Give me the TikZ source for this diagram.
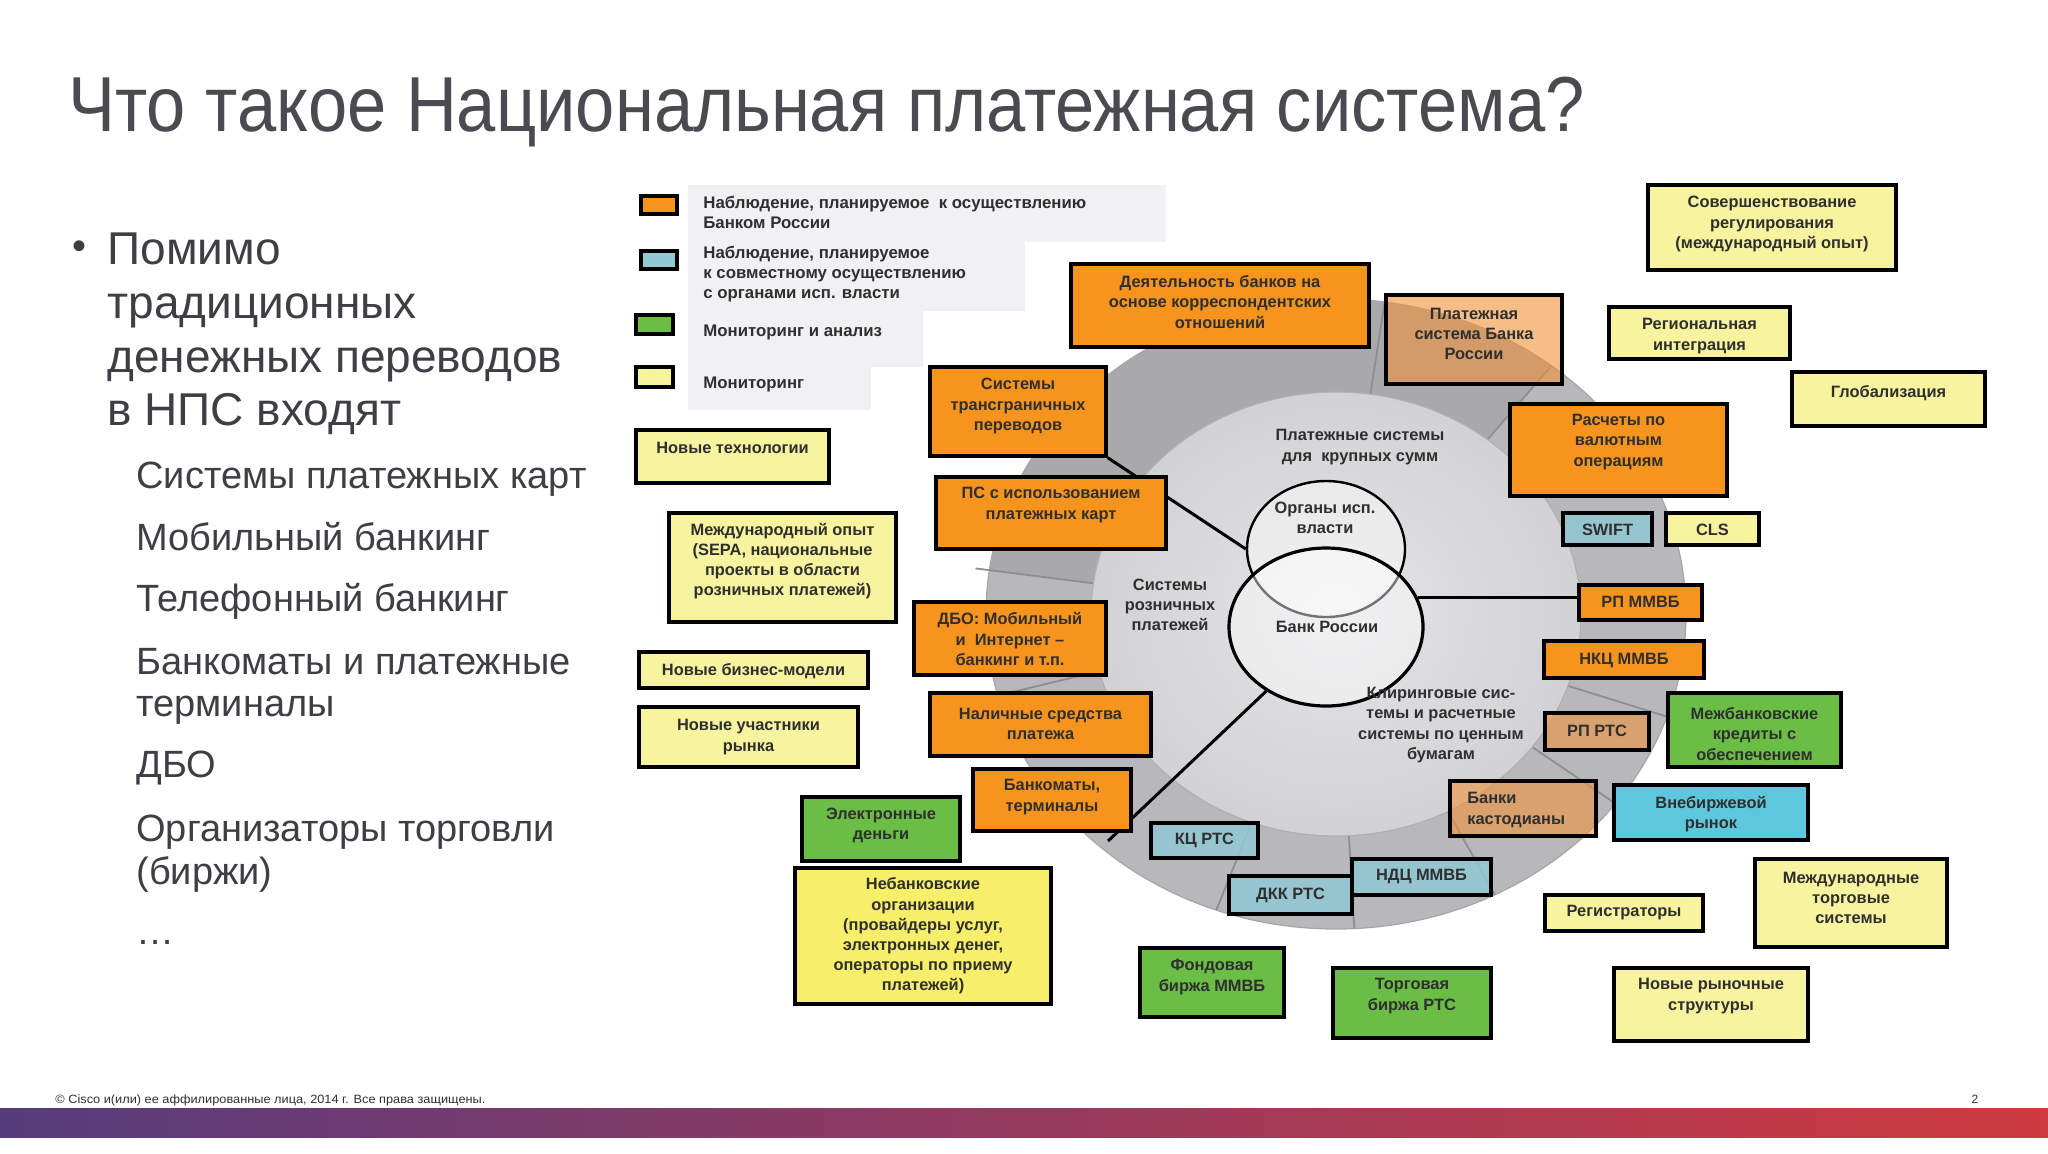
\documentclass[tikz,border=0pt]{standalone}
\usepackage{fontspec}
\usepackage{graphicx}
\setmainfont{Liberation Sans}
\usetikzlibrary{shapes.geometric}
\pgfdeclarelayer{ringlayer}
\pgfdeclarelayer{connlayer}
\pgfsetlayers{ringlayer,connlayer,main}
\definecolor{orng}{HTML}{F7941E}
\definecolor{tanc}{HTML}{F0923A}
\definecolor{ylw}{HTML}{F7F39E}
\definecolor{ylwb}{HTML}{F7EE6A}
\definecolor{grn}{HTML}{6ABD45}
\definecolor{bgrc}{HTML}{91C8D4}
\definecolor{cyn}{HTML}{5DC8DD}
\definecolor{txt}{HTML}{2F2F2F}
\definecolor{ttl}{HTML}{4A4A50}
\definecolor{bul}{HTML}{3E3E44}
\definecolor{ringA}{HTML}{B8B8BA}
\definecolor{ringB}{HTML}{A9A9AB}
\definecolor{discin}{HTML}{E4E4E6}
\definecolor{discout}{HTML}{D2D2D4}
\definecolor{legbg}{HTML}{F1F1F4}
\definecolor{radc}{HTML}{8E8E90}
\tikzset{
  bx/.style={draw=black,line width=1.7pt,inner sep=0pt},
  orngbox/.style={bx,fill=orng},
  tanbox/.style={bx,fill=tanc,fill opacity=0.6},
  ylwbox/.style={bx,fill=ylw},
  ylwbbox/.style={bx,fill=ylwb},
  grnbox/.style={bx,fill=grn},
  bgrbox/.style={bx,fill=bgrc,fill opacity=0.85},
  cynbox/.style={bx,fill=cyn},
  lbl/.style={font=\bfseries\fontsize{8.2pt}{10.1pt}\selectfont,align=center,text=txt,inner sep=0pt},
  leglbl/.style={font=\bfseries\fontsize{8.4pt}{10pt}\selectfont,align=left,text=txt,inner sep=0pt,anchor=west},
  radial/.style={draw=radc,line width=0.9pt},
  conn/.style={draw=black,line width=1.5pt},
  mainl/.style={anchor=base west,inner sep=0pt,text=bul,font=\fontsize{23pt}{27pt}\selectfont},
  subl/.style={anchor=base west,inner sep=0pt,text=bul,font=\fontsize{19pt}{21pt}\selectfont}
}
\newcommand\mybox[8]{%
  \pgfmathsetmacro\bw{(#5-#3)*0.5}\pgfmathsetmacro\bh{(#6-#4)*0.5}%
  \node[#1,minimum width=\bw pt,minimum height=\bh pt] (#2) at ({(#3+#5)/2},{(#4+#6)/2}) {};
  \node[lbl] (#2-t) at ({(#3+#5)/2},#7) {#8};}
\def\cx{1336}\def\cy{614}
\newcommand\radl[3]{\draw[radial] ({\cx+350*#2*cos(-#1)},{\cy+315*#2*sin(-#1)}) -- ({\cx+350*#3*cos(-#1)},{\cy+315*#3*sin(-#1)});}
\begin{document}
\begin{tikzpicture}[x=0.5pt,y=-0.5pt]
\begin{pgfonlayer}{ringlayer}
\useasboundingbox (0,0) rectangle (2048,1153);
\fill[white] (0,0) rectangle (2048,1153);
% ring
\fill[ringA] (\cx,\cy) ellipse [x radius=350, y radius=315];
\fill[ringB] ({\cx+350*cos(-52)},{\cy+315*sin(-52)}) arc[start angle=-52, end angle=-172, x radius=350, y radius=315] -- ({\cx+245*cos(-172)},{\cy+222*sin(-172)}) arc[start angle=-172, end angle=-52, x radius=245, y radius=222] -- cycle;
\draw[draw=radc!80,line width=0.6pt] (\cx,\cy) ellipse [x radius=350, y radius=315];
\radl{82}{0.7}{1.0}
\radl{52}{0.7}{1.0}
\radl{172}{0.7}{1.04}
\radl{195}{0.7}{1.0}
\radl{250}{0.7}{1.0}
\radl{273}{0.7}{1.0}
\radl{297}{0.7}{1.0}
\radl{323}{0.7}{1.0}
\radl{341}{0.7}{1.0}
\shade[inner color=discin,outer color=discout] (\cx,\cy) ellipse [x radius=245, y radius=222];
\draw[draw=radc!70,line width=0.6pt] (\cx,\cy) ellipse [x radius=245, y radius=222];
\end{pgfonlayer}
% title
\node[anchor=base west,inner sep=0pt,text=ttl] (title) at (68,131) {\resizebox{758pt}{\height}{\fontsize{39pt}{39pt}\selectfont Что такое Национальная платежная система?}};
% left text
\node[inner sep=0pt,text=bul,font=\fontsize{20pt}{20pt}\selectfont] (dot) at (80,250) {•};
\node[mainl] (m1) at (107,264) {Помимо};
\node[mainl] (m2) at (107,318) {традиционных};
\node[mainl] (m3) at (107,372) {денежных переводов};
\node[mainl] (m4) at (107,425) {в НПС входят};
\node[subl] (s1) at (136,488) {Системы платежных карт};
\node[subl] (s2) at (136,550) {Мобильный банкинг};
\node[subl] (s3) at (136,611) {Телефонный банкинг};
\node[subl] (s4) at (136,674) {Банкоматы и платежные};
\node[subl] (s4b) at (136,716) {терминалы};
\node[subl] (s5) at (136,777) {ДБО};
\node[subl] (s6) at (136,841) {Организаторы торговли};
\node[subl] (s6b) at (136,884) {(биржи)};
\node[subl] (s7) at (136,944) {…};
% legend
\fill[legbg] (688,185) rectangle (1166,242);
\fill[legbg] (688,242) rectangle (1025,311);
\fill[legbg] (688,311) rectangle (923,367);
\fill[legbg] (688,367) rectangle (871,410);
\node[orngbox,minimum width=18pt,minimum height=9pt] (lg1) at (659,205) {};
\node[bgrbox,fill opacity=1,minimum width=18pt,minimum height=9pt] (lg2) at (659,260) {};
\node[grnbox,minimum width=18.5pt,minimum height=9.5pt] (lg3) at (654.5,324.5) {};
\node[ylwbox,minimum width=18.5pt,minimum height=10pt] (lg4) at (654.5,377) {};
\node[leglbl] (lt1) at (703,212) {Наблюдение, планируемое \ к осуществлению\\Банком России};
\node[leglbl] (lt2) at (703,274) {Наблюдение, планируемое\\к совместному осуществлению\\с органами исп. власти};
\node[leglbl] (lt3) at (703,332) {Мониторинг и анализ};
\node[leglbl] (lt4) at (703,384) {Мониторинг};
% venn
\node[ellipse,draw=black,line width=1.2pt,fill=white,fill opacity=0.45,minimum width=79pt,minimum height=68pt,inner sep=0pt] (org) at (1326,549) {};
\node[ellipse,draw=black,line width=1.6pt,fill=white,fill opacity=0.45,minimum width=97pt,minimum height=79pt,inner sep=0pt] (bank) at (1326,627) {};
\node[lbl] (org-t) at (1325,518) {Органы исп.\\власти};
\node[lbl] (bank-t) at (1327,627) {Банк России};
\node[lbl] (d1) at (1360,447) {Платежные системы\\для \ крупных сумм};
\node[lbl] (d2) at (1170,605) {Системы\\розничных\\платежей};
\node[lbl] (d3) at (1441,725) {Клиринговые сис-\\темы и расчетные\\системы по ценным\\бумагам};
% boxes
\mybox{orngbox}{trans}{930}{367}{1106}{456}{406}{Системы\\трансграничных\\переводов}
\mybox{orngbox}{rpmmvb}{1579}{585}{1702}{620}{602}{РП ММВБ}
\mybox{orngbox}{deyat}{1071}{264}{1369}{347}{302}{Деятельность банков на\\основе корреспондентских\\отношений}
\mybox{tanbox}{psbr}{1386}{295}{1562}{384}{334}{Платежная\\система Банка\\России}
\mybox{ylwbox}{sovr}{1648}{185}{1896}{270}{224}{Совершенствование\\регулирования\\(международный опыт)}
\mybox{ylwbox}{regi}{1609}{307}{1790}{359}{336}{Региональная\\интеграция}
\mybox{ylwbox}{glob}{1792}{372}{1985}{426}{393}{Глобализация}
\mybox{ylwbox}{ntech}{636}{430}{829}{483}{448}{Новые технологии}
\mybox{orngbox}{rasch}{1510}{404}{1727}{496}{442}{Расчеты по\\валютным\\операциям}
\mybox{orngbox}{pscard}{936}{477}{1166}{549}{505}{ПС с использованием\\платежных карт}
\mybox{bgrbox}{swift}{1563}{513}{1652}{545}{530}{SWIFT}
\mybox{ylwbox}{cls}{1666}{513}{1759}{545}{530}{CLS}
\mybox{ylwbox}{intl}{669}{513}{896}{622}{561}{Международный опыт\\(SEPA, национальные\\проекты в области\\розничных платежей)}
\mybox{orngbox}{dbo}{914}{602}{1106}{675}{639}{ДБО: Мобильный\\и \ Интернет –\\банкинг и т.п.}
\mybox{orngbox}{nkc}{1544}{641}{1704}{678}{660}{НКЦ ММВБ}
\mybox{ylwbox}{nbiz}{639}{652}{868}{688}{671}{Новые бизнес-модели}
\mybox{ylwbox}{nuch}{639}{707}{858}{767}{737}{Новые участники\\рынка}
\mybox{orngbox}{nal}{930}{693}{1151}{756}{724}{Наличные средства\\платежа}
\mybox{tanbox}{rprts}{1545}{713}{1649}{750}{731}{РП РТС}
\mybox{grnbox}{mezh}{1668}{693}{1841}{767}{734}{Межбанковские\\кредиты с\\обеспечением}
\mybox{orngbox}{atm}{973}{769}{1131}{831}{797}{Банкоматы,\\терминалы}
\mybox{grnbox}{edeng}{802}{797}{960}{861}{825}{Электронные\\деньги}
\node[tanbox,minimum width=73pt,minimum height=27.5pt] (kast) at (1523,808.5) {};
\node[lbl,align=left,anchor=west] (kast-t) at (1467,810) {Банки\\кастодианы};
\mybox{cynbox}{vneb}{1614}{785}{1808}{840}{814}{Внебиржевой\\рынок}
\mybox{bgrbox}{kcrts}{1151}{823}{1258}{858}{840}{КЦ РТС}
\mybox{bgrbox}{ndc}{1352}{859}{1491}{895}{876}{НДЦ ММВБ}
\mybox{bgrbox}{dkk}{1229}{876}{1352}{914}{895}{ДКК РТС}
\mybox{ylwbbox}{nebank}{795}{868}{1051}{1004}{936}{Небанковские\\организации\\(провайдеры услуг,\\электронных денег,\\операторы по приему\\платежей)}
\mybox{ylwbox}{regs}{1545}{895}{1703}{931}{913}{Регистраторы}
\mybox{ylwbox}{mts}{1755}{859}{1947}{947}{898}{Международные\\торговые\\системы}
\mybox{grnbox}{fond}{1140}{948}{1284}{1017}{977}{Фондовая\\биржа ММВБ}
\mybox{grnbox}{torg}{1333}{968}{1491}{1038}{996}{Торговая\\биржа РТС}
\mybox{ylwbox}{nrs}{1614}{968}{1808}{1041}{996}{Новые рыночные\\структуры}
% connectors (below boxes)
\coordinate (atmtail) at (1108,841);
\begin{pgfonlayer}{connlayer}
\draw[conn] (trans.south east) -- (org.west);
\draw[conn] (bank.18) -- (bank.18 -| rpmmvb.west);
\draw[conn] (bank.227) -- (atmtail);
\end{pgfonlayer}
% footer
\node[anchor=base west,inner sep=0pt,text=txt] (foot) at (55,1103) {\resizebox{215pt}{\height}{\fontsize{6pt}{6pt}\selectfont © Cisco и(или) ее аффилированные лица, 2014 г. Все права защищены.}};
\node[anchor=base,inner sep=0pt,text=txt,font=\fontsize{6pt}{6pt}\selectfont] (pgno) at (1975,1103) {2};
\shade[left color={rgb,255:red,86;green,60;blue,124},right color={rgb,255:red,205;green,58;blue,63},middle color={rgb,255:red,150;green,58;blue,94}] (0,1108) rectangle (2048,1137);
\end{tikzpicture}
\end{document}
